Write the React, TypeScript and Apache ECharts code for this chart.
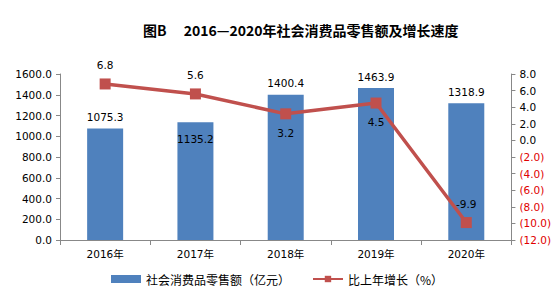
import React, { useEffect, useRef } from "react";
import * as echarts from "echarts";

const categories = ["2016年", "2017年", "2018年", "2019年", "2020年"];
const salesValues = [1075.3, 1135.2, 1400.4, 1463.9, 1318.9];
const growthValues = [6.8, 5.6, 3.2, 4.5, -9.9];
const salesLabelPos = ["top", "insideTop", "top", "top", "top"];
const growthLabelPos = ["top", "top", "bottom", "bottom", "top"];

const FONT = "'DejaVu Sans', 'Noto Sans CJK SC', sans-serif";

export default function App() {
  const ref = useRef<HTMLDivElement>(null);
  useEffect(() => {
    if (!ref.current) return;
    const chart = echarts.init(ref.current, null, { renderer: "svg" });
    chart.setOption({
      animation: false,
      backgroundColor: "#ffffff",
      title: {
        text: "图B　 2016—2020年社会消费品零售额及增长速度",
        left: 138,
        top: 18,
        textStyle: { fontSize: 14, fontWeight: "bold", color: "#000", fontFamily: "'Noto Sans CJK SC', sans-serif" },
      },
      grid: { left: 60, right: 42, top: 74, bottom: 64 },
      legend: {
        bottom: 14,
        left: "center",
        itemGap: 22,
        itemWidth: 30,
        itemHeight: 8,
        textStyle: { fontSize: 12, color: "#000", fontFamily: "'Noto Sans CJK SC', sans-serif" },
        data: [
          { name: "社会消费品零售额（亿元）", icon: "rect" },
          { name: "比上年增长（%）" },
        ],
      },
      xAxis: {
        type: "category",
        data: categories,
        axisLine: { lineStyle: { color: "#888" } },
        axisTick: { show: true, length: 5, lineStyle: { color: "#888" } },
        axisLabel: { color: "#000", fontSize: 10.5, fontFamily: FONT, margin: 9 },
      },
      yAxis: [
        {
          type: "value",
          min: 0,
          max: 1600,
          interval: 200,
          splitLine: { show: false },
          axisLine: { show: true, lineStyle: { color: "#888" } },
          axisTick: { show: true, length: 4, lineStyle: { color: "#888" } },
          axisLabel: { color: "#000", fontSize: 10.5, fontFamily: FONT, formatter: (v: number) => v.toFixed(1) },
        },
        {
          type: "value",
          min: -12,
          max: 8,
          interval: 2,
          splitLine: { show: false },
          axisLine: { show: true, lineStyle: { color: "#888" } },
          axisTick: { show: true, length: 4, lineStyle: { color: "#888" } },
          axisLabel: {
            fontSize: 10.5,
            fontFamily: FONT,
            formatter: (v: number) => (v < 0 ? `{neg|(${Math.abs(v).toFixed(1)})}` : `{pos|${v.toFixed(1)}}`),
            rich: {
              neg: { color: "#e00000", fontSize: 10.5, fontFamily: FONT },
              pos: { color: "#000", fontSize: 10.5, fontFamily: FONT },
            },
          },
        },
      ],
      series: [
        {
          name: "社会消费品零售额（亿元）",
          type: "bar",
          barWidth: 36,
          itemStyle: { color: "#4F81BD" },
          data: salesValues.map((v, i) => ({
            value: v,
            label: { show: true, position: salesLabelPos[i], distance: salesLabelPos[i] === "insideTop" ? 12 : 6 },
          })),
          label: { color: "#000", fontSize: 10.5, fontFamily: FONT, formatter: (p: any) => p.value.toFixed(1) },
        },
        {
          name: "比上年增长（%）",
          type: "line",
          yAxisIndex: 1,
          symbol: "rect",
          symbolSize: 11,
          lineStyle: { color: "#C0504D", width: 3.5 },
          itemStyle: { color: "#C0504D" },
          data: growthValues.map((v, i) => ({
            value: v,
            label: { show: true, position: growthLabelPos[i], distance: 8 },
          })),
          label: { color: "#000", fontSize: 10.5, fontFamily: FONT, formatter: (p: any) => p.value.toFixed(1) },
        },
      ],
    });
    return () => chart.dispose();
  }, []);
  return <div ref={ref} style={{ width: 554, height: 304, position: "absolute", left: 0, top: 0 }} />;
}
